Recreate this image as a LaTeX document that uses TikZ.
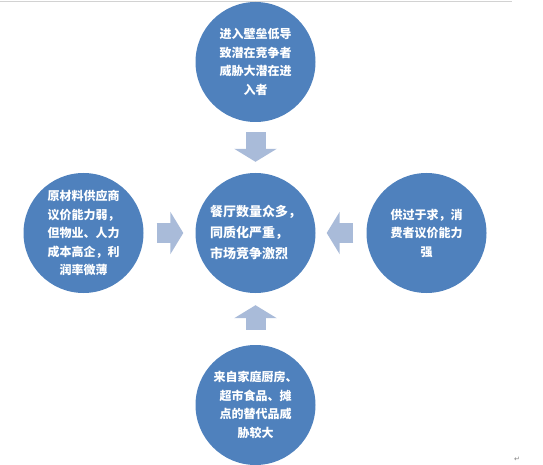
\documentclass[tikz,border=0pt]{standalone}
\usepackage{fontspec}
\newfontfamily\cjk{Noto Sans CJK SC}
\newfontfamily\symfont{DejaVu Sans}
\usetikzlibrary{arrows.meta}
\definecolor{circblue}{HTML}{4F81BD}
\definecolor{arrblue}{HTML}{A9BBD9}

\begin{document}
\begin{tikzpicture}[x=1pt,y=-1pt,
  force/.style={circle,fill=circblue,minimum size=120pt,inner sep=0pt,text=white,align=center,
    font=\cjk\bfseries\fontsize{12}{18.5}\selectfont},
  core/.style={force,align=left,font=\cjk\bfseries\fontsize{13}{21}\selectfont},
  push/.style={draw=arrblue,line width=20pt,-{Triangle[length=13pt,width=42pt]}}]
  \useasboundingbox (0,0) rectangle (543,465);
  \draw[gray!35,line width=1.2pt] (0,1.5) -- (512,1.5);
  % the five forces
  \node[core] (market) at (255.5,233) {餐厅数量众多，\\同质化严重，\\市场竞争激烈};
  \node[force] (entrant) at (255.5,62) {进入壁垒低导\\致潜在竞争者\\威胁大潜在进\\入者};
  \node[force] (supplier) at (83.5,233) {原材料供应商\\议价能力弱，\\但物业、人力\\成本高企，利\\润率微薄};
  \node[force] (buyer) at (426.5,233) {供过于求，消\\费者议价能力\\强};
  \node[force] (substitute) at (255.5,405) {来自家庭厨房、\\超市食品、摊\\点的替代品威\\胁较大};
  % arrows into the middle
  \draw[push,shorten <=10pt,shorten >=11pt] (entrant) -- (market);
  \draw[push,shorten <=13pt,shorten >=12pt] (supplier) -- (market);
  \draw[push,shorten <=13pt,shorten >=11pt] (buyer) -- (market);
  \draw[push,shorten <=15pt,shorten >=12pt] (substitute) -- (market);
  \node[text=gray,font=\symfont\fontsize{7}{7}\selectfont] (mark) at (517,459) {↵};
\end{tikzpicture}
\end{document}
